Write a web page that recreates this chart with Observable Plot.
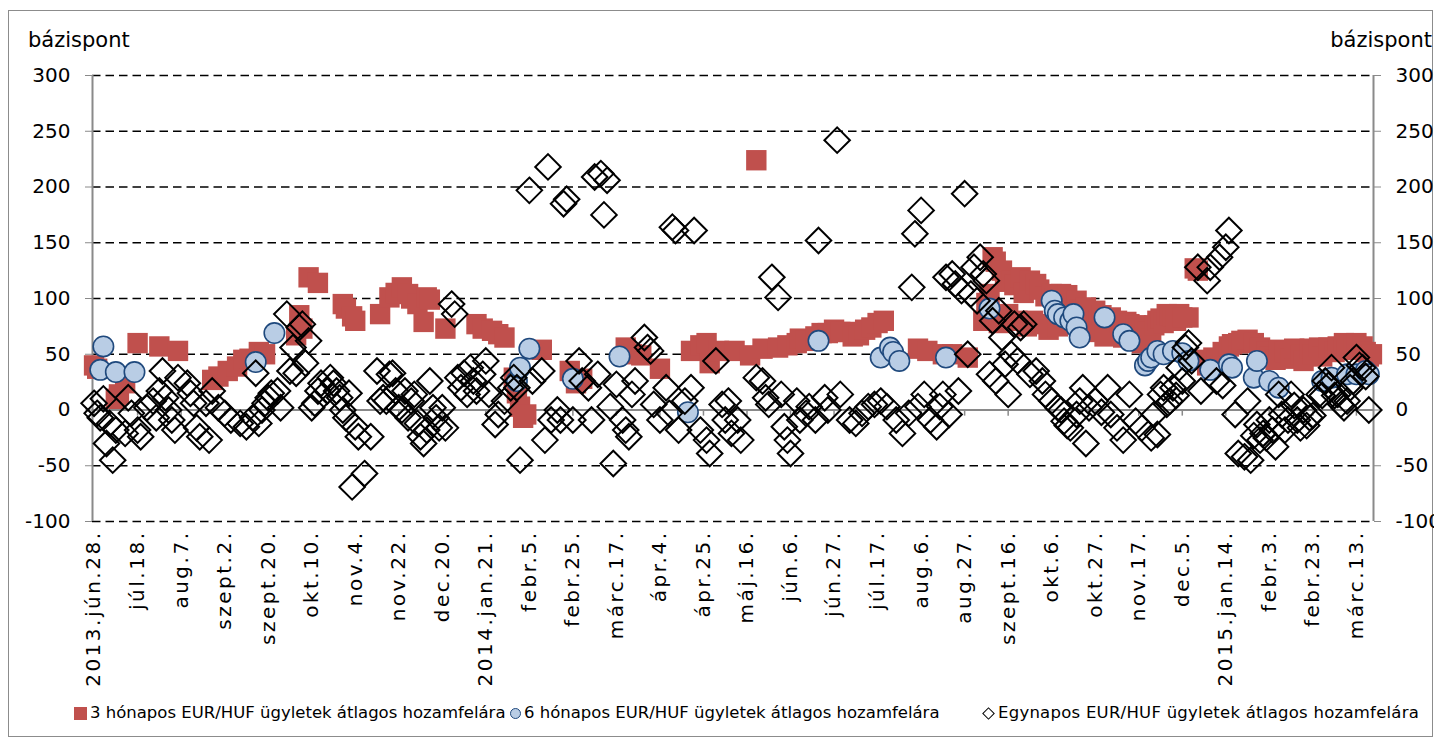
<!DOCTYPE html>
<html><head><meta charset="utf-8">
<script src="https://cdn.jsdelivr.net/npm/d3@7"></script>
<script src="https://cdn.jsdelivr.net/npm/@observablehq/plot@0.6"></script>
<style>
body{margin:0;background:#fff;font-family:"DejaVu Sans",sans-serif;color:#000;}
#wrap{position:relative;width:1434px;height:743px;overflow:hidden;}
#border{position:absolute;left:8px;top:10px;width:1425px;height:727px;border:1px solid #8c8c8c;box-sizing:border-box;}
#chart{position:absolute;left:0;top:0;}
.unit{position:absolute;top:30px;font-size:21px;line-height:1;white-space:nowrap;}
.li{position:absolute;top:702px;font-size:16.5px;line-height:22px;white-space:nowrap;display:flex;align-items:center;}
.mk{display:inline-block;margin-right:3px;box-sizing:border-box;}
</style></head>
<body><div id="wrap"><div id="border"></div><div id="chart"></div>
<div class="unit" style="left:28px">bázispont</div>
<div class="unit" style="right:2px">bázispont</div>
<div id="legend"></div>
</div>
<script>
// trading-day index (0 = 2013.jún.28.), value in basis points
const xLabels = ["2013.jún.28.","júl.18.","aug.7.","szept.2.","szept.20.","okt.10.","nov.4.","nov.22.","dec.20.","2014.jan.21.","febr.5.","febr.25.","márc.17.","ápr.4.","ápr.25.","máj.16.","jún.6.","jún.27.","júl.17.","aug.6.","aug.27.","szept.16.","okt.6.","okt.27.","nov.17.","dec.5.","2015.jan.14.","febr.3.","febr.23.","márc.13."];
const labelStep = 14;
const dayCount = 412;
const yTicks = [-100,-50,0,50,100,150,200,250,300];
const seriesNames = ["3 hónapos EUR/HUF ügyletek átlagos hozamfelára","6 hónapos EUR/HUF ügyletek átlagos hozamfelára","Egynapos EUR/HUF ügyletek átlagos hozamfelára"];

const threeMonth = [[0,40],[1,37],[7,10],[8,14],[10,24],[14,60],[21,57],[27,53],[38,27],[40,30],[43,35],[46,39],[48,45],[50,46],[53,52],[55,50],[65,67],[66,85],[67,73],[69,119],[72,114],[80,95],[81,91],[83,84],[84,80],[92,86],[95,101],[97,105],[99,110],[101,104],[102,100],[104,95],[106,79],[107,101],[108,99],[113,73],[123,77],[125,73],[128,71],[130,68],[132,65],[135,29],[136,15],[137,3],[138,-7],[139,-4],[144,54],[153,35],[155,24],[157,28],[171,56],[173,50],[176,49],[182,37],[192,53],[195,58],[197,60],[198,42],[201,53],[206,53],[211,49],[213,224],[215,55],[220,56],[223,58],[226,60],[227,64],[229,62],[232,66],[234,69],[236,69],[238,72],[240,70],[242,70],[244,66],[246,67],[248,72],[250,74],[252,78],[254,80],[265,55],[268,53],[273,50],[276,50],[281,47],[286,80],[287,96],[288,104],[289,137],[290,133],[291,78],[292,125],[293,115],[294,86],[295,116],[296,112],[297,80],[298,119],[299,105],[300,75],[301,116],[302,80],[303,113],[304,108],[305,77],[306,102],[307,72],[308,104],[309,100],[310,75],[311,104],[312,97],[313,103],[314,95],[315,85],[316,98],[317,90],[318,80],[319,92],[320,88],[321,70],[322,89],[323,80],[324,85],[325,66],[326,82],[327,83],[328,70],[329,80],[330,78],[331,65],[332,79],[333,77],[334,68],[335,76],[336,73],[337,60],[338,72],[339,70],[340,64],[341,76],[342,80],[343,82],[344,78],[345,86],[346,85],[347,84],[348,80],[349,86],[350,83],[352,83],[354,127],[355,125],[356,45],[358,40],[360,47],[361,44],[363,52],[365,57],[366,59],[368,60],[369,62],[371,63],[373,60],[375,56],[377,52],[378,48],[380,45],[381,54],[383,52],[385,46],[386,55],[388,50],[389,44],[391,55],[392,50],[394,56],[395,48],[397,56],[399,52],[400,57],[402,60],[403,54],[405,58],[406,60],[408,57],[409,52],[410,48],[411,50]];

const sixMonth = [[2,36],[3,57],[7,34],[13,34],[52,43],[58,69],[136,26],[137,38],[140,55],[154,28],[169,48],[191,-2],[233,62],[253,47],[256,56],[257,52],[259,44],[274,47],[288,91],[308,98],[309,89],[310,86],[312,83],[314,80],[315,86],[316,74],[317,65],[325,83],[331,68],[333,62],[338,40],[339,44],[340,47],[342,53],[344,50],[347,53],[350,51],[352,44],[359,36],[365,41],[366,38],[373,29],[374,44],[378,26],[381,20],[395,26],[398,29],[403,32],[406,32],[409,35],[410,32]];

const overnight = [[0,6],[1,-3],[2,-7],[3,10],[4,-30],[5,-12],[6,-45],[7,-18],[10,-21],[11,11],[12,-3],[14,-18],[15,-24],[17,2],[19,8],[20,-7],[21,17],[22,35],[23,11],[24,0],[25,-9],[26,-18],[27,29],[30,24],[31,15],[32,6],[33,-16],[34,-24],[36,6],[37,-27],[38,17],[40,2],[42,-3],[44,-9],[47,-12],[49,-15],[51,-7],[52,33],[53,-12],[54,0],[55,6],[56,11],[57,15],[59,17],[60,2],[62,86],[63,35],[64,56],[65,33],[66,74],[67,77],[68,42],[69,62],[70,2],[71,6],[72,17],[73,24],[75,17],[76,29],[77,24],[78,17],[79,11],[80,0],[81,-7],[82,15],[83,-69],[84,-15],[85,-24],[87,-57],[89,-24],[91,35],[92,8],[93,11],[94,8],[95,32],[96,33],[97,17],[98,2],[99,0],[100,17],[101,-7],[102,8],[103,14],[104,-12],[105,-24],[106,-30],[107,-18],[108,26],[109,2],[110,-7],[111,-16],[112,2],[113,-16],[115,95],[116,86],[117,29],[118,20],[119,33],[120,14],[121,38],[122,26],[123,17],[125,32],[126,44],[127,14],[129,-13],[130,-4],[132,8],[134,20],[135,29],[136,20],[137,-45],[140,197],[141,26],[144,35],[145,-27],[146,218],[147,-9],[149,0],[150,-9],[151,185],[152,189],[154,-9],[156,44],[157,26],[159,20],[160,-9],[161,209],[162,32],[163,212],[164,175],[165,206],[166,3],[167,-48],[168,23],[170,-9],[171,-18],[172,-24],[173,14],[174,26],[177,65],[178,56],[179,53],[180,5],[182,-9],[184,20],[185,-3],[186,164],[187,161],[188,-18],[190,8],[192,20],[193,161],[195,-18],[197,-27],[198,-39],[200,44],[202,5],[203,-9],[204,8],[205,-21],[207,-9],[208,-27],[213,29],[215,26],[216,11],[217,5],[218,119],[220,101],[221,14],[222,-15],[223,-27],[224,-39],[226,8],[227,-9],[229,-3],[230,3],[232,-9],[233,152],[235,11],[236,0],[239,242],[240,14],[243,-9],[245,-12],[247,-3],[249,3],[251,5],[253,8],[255,3],[258,-9],[260,-21],[262,-3],[263,110],[264,158],[265,3],[266,179],[267,14],[269,-9],[271,-15],[272,3],[273,14],[274,119],[275,-4],[276,122],[277,113],[278,17],[279,107],[280,194],[281,50],[282,104],[283,128],[284,98],[285,137],[286,122],[287,116],[288,32],[289,80],[290,26],[291,89],[292,65],[293,41],[294,14],[295,50],[296,77],[297,44],[298,74],[299,77],[301,32],[303,35],[305,26],[306,14],[308,8],[310,2],[311,0],[312,-10],[313,-14],[314,-16],[316,-4],[317,8],[318,20],[319,-30],[320,2],[322,8],[324,-2],[326,20],[327,-4],[329,-16],[331,-27],[333,14],[335,-10],[337,-16],[340,-25],[341,-4],[342,-22],[343,14],[344,20],[345,5],[346,8],[347,20],[348,13],[349,38],[350,26],[351,56],[352,60],[353,44],[355,128],[356,17],[358,116],[359,128],[361,26],[362,137],[363,22],[364,146],[365,161],[367,-4],[368,-39],[370,-42],[371,8],[372,-45],[373,-23],[374,-13],[375,-27],[376,-21],[377,-25],[378,-9],[379,-18],[380,-33],[381,14],[382,-4],[383,-18],[384,-9],[385,14],[386,4],[387,-9],[388,-16],[389,0],[390,-14],[391,-7],[392,-5],[394,14],[395,13],[396,26],[397,22],[398,38],[399,13],[400,14],[401,5],[402,2],[403,8],[404,20],[405,26],[406,47],[407,40],[408,38],[409,30],[410,0]];

const labelIdx = xLabels.map((_, i) => i * labelStep);
const xDomain = [-0.5, dayCount - 0.5];
const gridVals = yTicks.filter(v => v !== 0);
const fmtY = d => String(d);

const chart = Plot.plot({
  width: 1434, height: 700,
  marginLeft: 92, marginRight: 61, marginTop: 75, marginBottom: 179,
  x: {type: "linear", domain: xDomain, axis: null},
  y: {domain: [-100, 300], axis: null},
  style: {fontFamily: "DejaVu Sans, sans-serif", fontSize: "20px", color: "#000", background: "transparent", overflow: "visible"},
  marks: [
    Plot.ruleY(gridVals, {stroke: "#000", strokeWidth: 1.6, strokeDasharray: "8.5,5"}),
    Plot.ruleY([0], {stroke: "#8a8a8a", strokeWidth: 2}),
    Plot.ruleX(xDomain, {y1: -100, y2: 300, stroke: "#8a8a8a", strokeWidth: 2}),
    Plot.ruleX(labelIdx, {y1: 0, y2: -5.5, stroke: "#8a8a8a", strokeWidth: 1.5}),
    Plot.axisY({anchor: "left", ticks: yTicks, tickFormat: fmtY, tickSize: 7, tickPadding: 15, stroke: "#8a8a8a", fill: "#000", fontSize: 20}),
    Plot.axisY({anchor: "right", ticks: yTicks, tickFormat: fmtY, tickSize: 7, tickPadding: 15, stroke: "#8a8a8a", fill: "#000", fontSize: 20}),
    Plot.axisX({anchor: "bottom", ticks: labelIdx, tickFormat: i => xLabels[Math.round(i / labelStep)], tickRotate: -90, tickSize: 0, tickPadding: 9, fill: "#000", fontSize: 20}),
    Plot.dot(threeMonth, {x: d => d[0], y: d => d[1], symbol: "square", r: 11.5, fill: "#c0504d"}),
    Plot.dot(sixMonth, {x: d => d[0], y: d => d[1], symbol: "circle", r: 10.2, fill: "#b9cde5", stroke: "#1f497d", strokeWidth: 1.6}),
    Plot.dot(overnight, {x: d => d[0], y: d => d[1], symbol: "diamond2", r: 11.5, fill: "none", stroke: "#000", strokeWidth: 2})
  ]
});
chart.querySelectorAll('[aria-label="x-axis tick label"] text').forEach(t => { t.style.letterSpacing = "2.5px"; });
document.getElementById("chart").appendChild(chart);

const legend = document.getElementById("legend");
const markerStyles = [
  "width:13px;height:13px;background:#c0504d;",
  "width:11px;height:11px;border-radius:50%;background:#b9cde5;border:1.5px solid #1f497d;",
  "width:9px;height:9px;border:1.6px solid #000;transform:rotate(45deg);margin-left:2px;margin-right:5px;"
];
const legendLeft = [74, 510, 982];
seriesNames.forEach((name, i) => {
  const item = document.createElement("div");
  item.className = "li";
  item.style.left = legendLeft[i] + "px";
  if (i === 2) item.style.letterSpacing = "0.25px";
  const mk = document.createElement("span");
  mk.className = "mk";
  mk.style.cssText = markerStyles[i];
  item.appendChild(mk);
  item.appendChild(document.createTextNode(name));
  legend.appendChild(item);
});
</script></body></html>
